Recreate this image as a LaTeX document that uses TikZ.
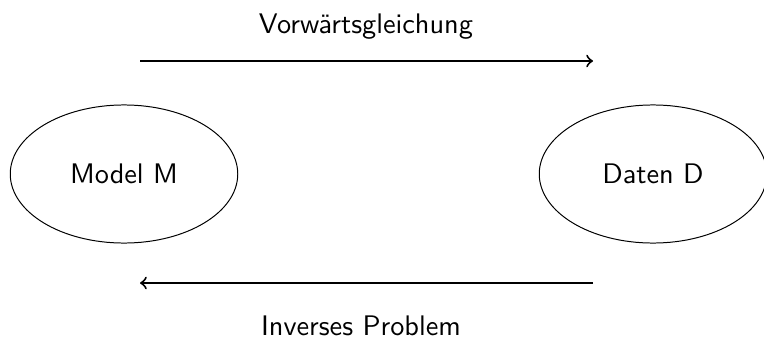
\documentclass[tikz,border=0pt]{standalone}
\usetikzlibrary{shapes.geometric}
\begin{document}
\begin{tikzpicture}[x=0.3534pt,y=-0.3534pt,
  font=\sffamily,
  blob/.style={draw,ellipse,inner sep=0pt,minimum width=80.4pt,minimum height=48.8pt,line width=0.35pt},
  lbl/.style={inner sep=0pt},
  flow/.style={->,line width=0.7pt}]
\useasboundingbox (0,0) rectangle (764,338);
\node[blob] (m) at (124,174) {Model M};
\node[blob] (d) at (653,174) {Daten D};
\coordinate (a1) at (140,61);
\coordinate (a2) at (593,61);
\coordinate (b1) at (593,283);
\coordinate (b2) at (140,283);
\draw[flow] (a1) -- (a2);
\draw[flow] (b1) -- (b2);
\node[lbl] (t) at (366,27) {Vorwärtsgleichung};
\node[lbl] (u) at (361,326) {Inverses Problem};
\end{tikzpicture}
\end{document}
